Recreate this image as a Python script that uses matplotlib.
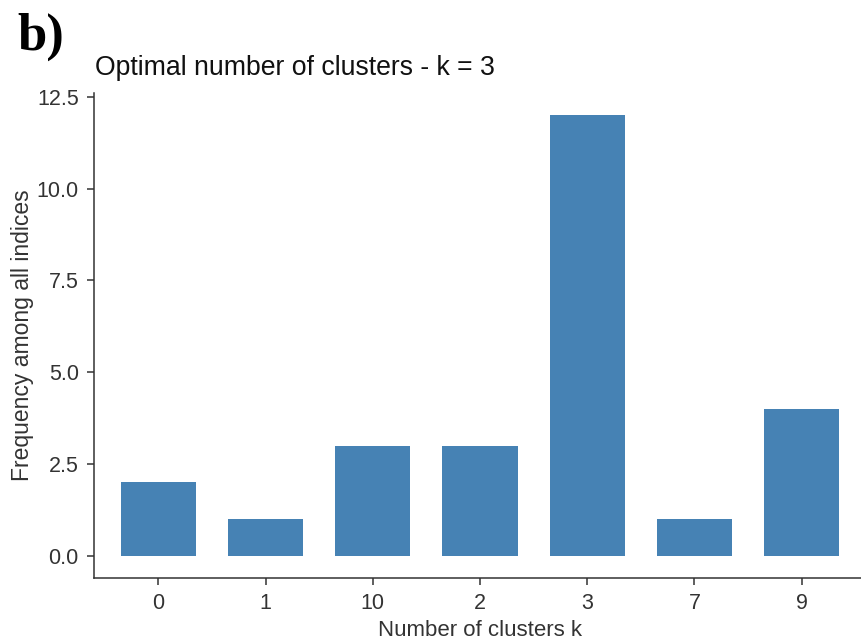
import matplotlib
matplotlib.use("Agg")
import matplotlib.pyplot as plt

categories = ["0", "1", "10", "2", "3", "7", "9"]
frequency = [2, 1, 3, 3, 12, 1, 4]
yticks = [0.0, 2.5, 5.0, 7.5, 10.0, 12.5]
ytick_labels = ["0.0", "2.5", "5.0", "7.5", "10.0", "12.5"]

plt.rcParams['font.family'] = ['Liberation Sans', 'DejaVu Sans']

fig = plt.figure(figsize=(8.62, 6.41), dpi=100)
ax = fig.add_axes([94/862, 63/641, (866-94)/862, (578-93)/641])

x = list(range(len(categories)))
ax.bar(x, frequency, width=0.7, color="#4682B4")
ax.set_xlim(-0.6, len(categories) - 1 + 0.6)
ax.set_ylim(-0.6, 12.6)
ax.set_xticks(x)
ax.set_xticklabels(categories)
ax.set_yticks(yticks)
ax.set_yticklabels(ytick_labels)

for s in ["top", "right"]:
    ax.spines[s].set_visible(False)
for s in ["left", "bottom"]:
    ax.spines[s].set_color("#333333")
    ax.spines[s].set_linewidth(1.1)
ax.tick_params(axis="both", colors="#333333", length=5, width=1.1,
               labelsize=15.5, labelcolor="#333333")
ax.tick_params(axis="x", pad=6)
ax.tick_params(axis="y", pad=6)

ax.set_xlabel("Number of clusters k", fontsize=16, color="#333333")
ax.xaxis.set_label_coords(0.5, (578 - 636.5) / 485)
ax.xaxis.label.set_va("baseline")
ax.set_ylabel("Frequency among all indices", fontsize=16.5, color="#333333")
ax.yaxis.set_label_coords((34 - 94) / 772, 0.5)

fig.text(95/862, 1 - 75/641, "Optimal number of clusters - k = 3", fontsize=19.2,
         color="#111111", va="baseline", ha="left")
fig.text(17/862, 1 - 50/641, "b)", fontsize=38, fontweight="bold",
         family=["Liberation Serif", "DejaVu Serif"], va="baseline", ha="left")

fig.savefig("out.png", dpi=100)
